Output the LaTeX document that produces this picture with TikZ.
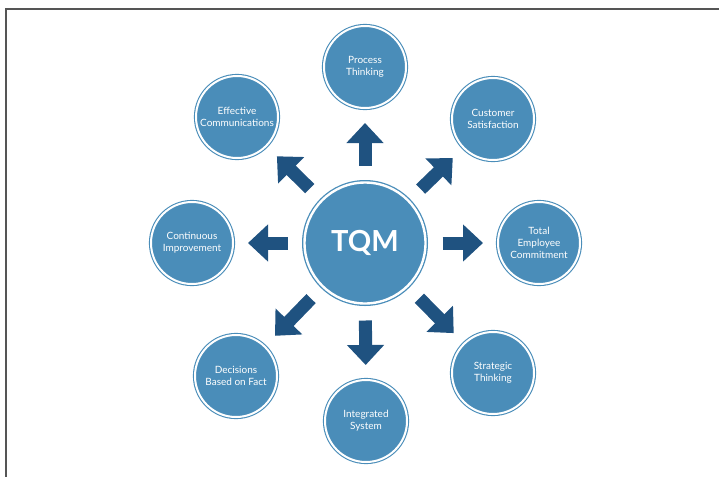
\documentclass[tikz,border=0pt]{standalone}
\usepackage{fontspec}
\setmainfont{Lato}
\usepackage{tikz}
\usetikzlibrary{arrows.meta}
\usepackage{xcolor}
\definecolor{tqmblue}{RGB}{74,141,185}
\definecolor{arrowblue}{RGB}{31,82,128}
\definecolor{framegray}{RGB}{85,85,85}

\begin{document}
\begin{tikzpicture}[
  x=1pt, y=-1pt,
  hub/.style={circle, fill=tqmblue, draw=tqmblue, double=white, double distance=2.4pt, line width=1.3pt, minimum size=121pt, outer sep=0pt, text=white, font=\fontsize{29}{32}\selectfont\bfseries},
  pillar/.style={circle, fill=tqmblue, draw=tqmblue, double=white, double distance=2pt, line width=1.1pt, minimum size=82pt, outer sep=0pt, inner sep=1pt, text=white, align=center, font=\fontsize{10}{12}\selectfont},
  arr/.style={-{Triangle[width=36pt, length=20pt]}, line width=13pt, arrowblue, shorten <=17pt, shorten >=15pt},
]
\useasboundingbox (0,0) rectangle (719,477);

% frame
\draw[framegray, line width=1.6pt] (719,9) -- (6,9) -- (6,477);

% === Centre ===
\node[hub] (tqm) at (365,243) {TQM};

% === Surrounding principles ===
\node[pillar] (proc) at (365,67) {Process\\Thinking};
\node[pillar] (cust) at (493,119) {Customer\\Satisfaction};
\node[pillar] (empl) at (539,243) {Total\\Employee\\Commitment};
\node[pillar] (strat) at (493,373) {Strategic\\Thinking};
\node[pillar] (integ) at (366,421) {Integrated\\System};
\node[pillar] (fact) at (236,376) {Decisions\\Based on Fact};
\node[pillar] (cont) at (192,243) {Continuous\\Improvement};
\node[pillar] (comm) at (237,117) {Effective\\Communications};

% arrows out of the centre
\draw[arr] (tqm) -- (proc);
\draw[arr] (tqm) -- (cust);
\draw[arr] (tqm) -- (empl);
\draw[arr] (tqm) -- (strat);
\draw[arr] (tqm) -- (integ);
\draw[arr] (tqm) -- (fact);
\draw[arr] (tqm) -- (cont);
\draw[arr] (tqm) -- (comm);
\end{tikzpicture}
\end{document}
